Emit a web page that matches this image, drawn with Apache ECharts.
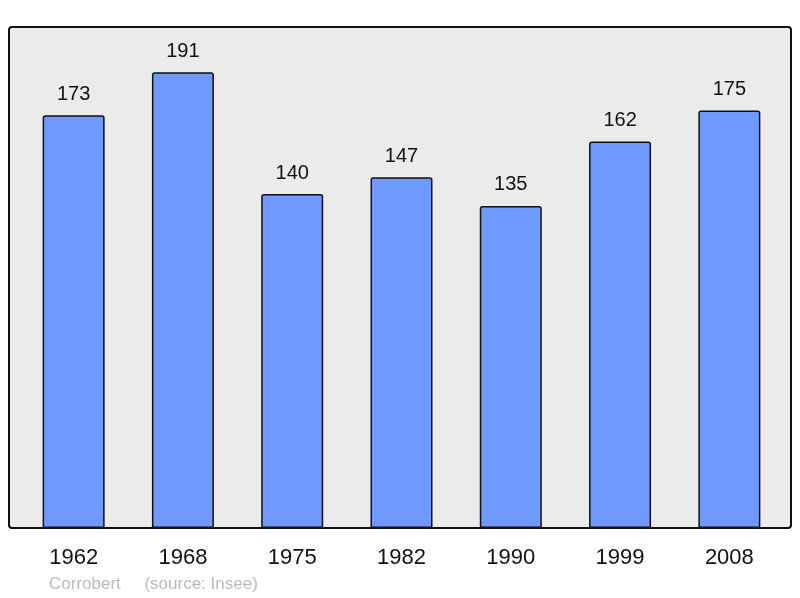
<!DOCTYPE html>
<html>
<head>
<meta charset="utf-8">
<script src="https://cdn.jsdelivr.net/npm/echarts@6/dist/echarts.min.js"></script>
<style>
  html, body { margin: 0; padding: 0; background: #fff; }
  #chart { width: 800px; height: 598px; }
</style>
</head>
<body>
<div id="chart"></div>
<script>
// années du recensement
var years = ['1962', '1968', '1975', '1982', '1990', '1999', '2008'];
// population
var population = [173, 191, 140, 147, 135, 162, 175];

var chart = echarts.init(document.getElementById('chart'), null, { renderer: 'canvas' });

chart.setOption({
  animation: false,
  grid: {
    left: 19,
    right: 16,
    top: 27,
    bottom: 70
  },
  graphic: [
    { // cadre gris arrondi
      type: 'rect',
      z: -10,
      shape: { x: 9, y: 27, width: 782, height: 501, r: 3 },
      style: { fill: '#ebebeb', stroke: '#111', lineWidth: 2 }
    },
    {
      type: 'text',
      left: 49,
      top: 576,
      style: {
        text: 'Corrobert     (source: Insee)',
        fill: '#bbbbbb',
        font: '17px "Liberation Sans", Arial, sans-serif'
      }
    }
  ],
  xAxis: {
    type: 'category',
    data: years,
    axisLine: { show: false },
    axisTick: { show: false },
    axisLabel: {
      margin: 19,
      color: '#111',
      fontSize: 22,
      fontFamily: '"Liberation Sans", Arial, sans-serif'
    }
  },
  yAxis: {
    type: 'value',
    min: 0,
    max: 210,
    show: false
  },
  series: [{
    type: 'bar',
    data: population,
    barWidth: 62,
    itemStyle: {
      color: '#7099ff',
      borderColor: '#111',
      borderWidth: 1.5,
      borderRadius: [2, 2, 0, 0]
    },
    label: {
      show: true,
      position: 'top',
      distance: 11,
      color: '#111',
      fontSize: 20,
      fontFamily: '"Liberation Sans", Arial, sans-serif'
    }
  }]
});
</script>
</body>
</html>
